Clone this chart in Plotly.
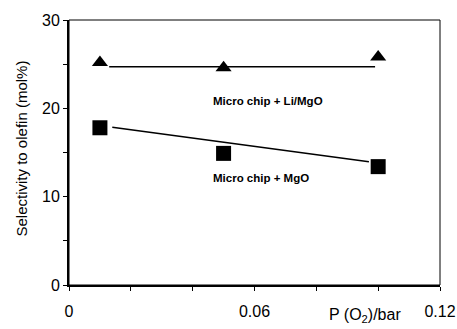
import plotly.graph_objects as go

pressure = [0.01, 0.05, 0.10]
sel_li_mgo = [25.2, 24.6, 25.8]
sel_mgo = [17.8, 14.9, 13.4]
fit_li_x = [0.013, 0.099]
fit_li_y = [24.7, 24.7]
fit_mgo_x = [0.014, 0.097]
fit_mgo_y = [17.86, 13.96]

W, H = 457, 329
ML, MR, MT, MB = 69, 17, 20, 44
PW, PH = W - ML - MR, H - MT - MB

fig = go.Figure()
fig.add_trace(go.Scatter(x=fit_li_x, y=fit_li_y, mode="lines",
                         line=dict(color="black", width=1.5), showlegend=False))
fig.add_trace(go.Scatter(x=fit_mgo_x, y=fit_mgo_y, mode="lines",
                         line=dict(color="black", width=1.5), showlegend=False))
fig.add_trace(go.Scatter(x=pressure, y=sel_li_mgo, mode="markers",
                         marker=dict(symbol="triangle-up", size=14, color="black"),
                         showlegend=False))
fig.add_trace(go.Scatter(x=pressure, y=sel_mgo, mode="markers",
                         marker=dict(symbol="square", size=15, color="black"),
                         showlegend=False))

font = dict(family="Liberation Sans, Arial, sans-serif", color="black")

annotations = [
    dict(x=0.0645, y=20.8, xref="x", yref="y", text="<b>Micro chip + Li/MgO</b>",
         showarrow=False, font=dict(size=11.5, **font), xanchor="center", yanchor="middle"),
    dict(x=0.0622, y=12.1, xref="x", yref="y", text="<b>Micro chip + MgO</b>",
         showarrow=False, font=dict(size=11.5, **font), xanchor="center", yanchor="middle"),
    dict(x=(365 - ML) / PW, y=-(315 - (H - MB)) / PH, xref="paper", yref="paper",
         text="P (O<sub>2</sub>)/bar", showarrow=False, font=dict(size=16, **font),
         xanchor="center", yanchor="middle"),
    dict(x=(21 - ML) / PW, y=((H - MB) - 148.5) / PH, xref="paper", yref="paper",
         text="Selectivity to olefin (mol%)", textangle=-90, showarrow=False,
         font=dict(size=15, **font), xanchor="center", yanchor="middle"),
]

fig.update_layout(
    width=W, height=H,
    margin=dict(l=ML, r=MR, t=MT, b=MB, autoexpand=False),
    paper_bgcolor="white", plot_bgcolor="white",
    font=dict(size=16, **font),
    annotations=annotations,
    xaxis=dict(range=[0, 0.12], dtick=0.06, tick0=0, ticks="outside", ticklen=4,
               tickwidth=1, tickcolor="black", showline=True, linecolor="black",
               linewidth=2, showgrid=False, zeroline=False, automargin=False,
               tickfont=dict(size=16, **font), ticklabelstandoff=7,
               minor=dict(dtick=0.02, ticks="outside", ticklen=4, tickcolor="black", showgrid=False)),
    yaxis=dict(range=[0, 30], dtick=10, tick0=0, ticks="outside", ticklen=4,
               tickwidth=1, tickcolor="black", showline=True, linecolor="black",
               linewidth=2, showgrid=False, zeroline=False, automargin=False,
               tickfont=dict(size=16, **font),
               minor=dict(dtick=5, ticks="outside", ticklen=4, tickcolor="black", showgrid=False)),
    shapes=[dict(type="rect", xref="paper", yref="paper", x0=0, y0=0, x1=1, y1=1,
                 line=dict(color="black", width=1))],
)

fig.write_html("out.html", config={"displayModeBar": False},
               post_script="document.body.style.margin='0';")
